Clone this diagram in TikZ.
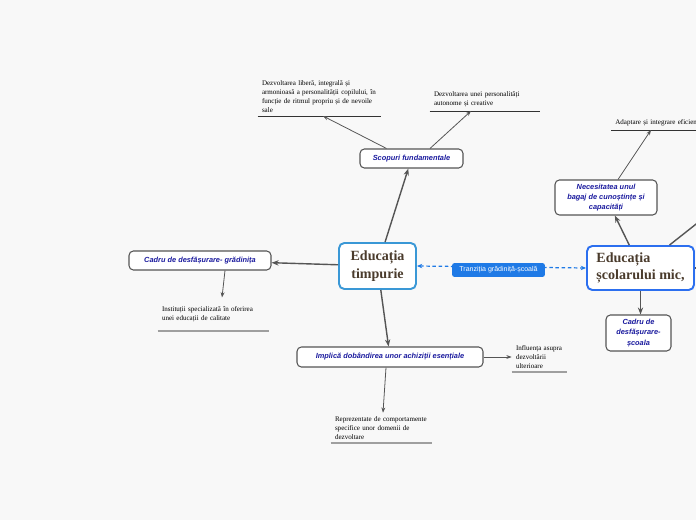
\documentclass[tikz,border=0pt]{standalone}
\usepackage{fontspec}
\setmainfont{Liberation Serif}
\setsansfont{Liberation Sans}
\usepackage{tikz}
\usetikzlibrary{arrows.meta,positioning}
\definecolor{mapblue}{HTML}{3A98D6}
\definecolor{schoolblue}{HTML}{2C6FEF}
\definecolor{topicblue}{HTML}{1A1A9E}
\definecolor{rootbrown}{HTML}{4A3B2C}
\definecolor{bridgeblue}{HTML}{1F7AE6}
\definecolor{arrowgray}{HTML}{555555}
\definecolor{paper}{HTML}{F8F8F8}

\begin{document}
\begin{tikzpicture}[x=0.02cm, y=-0.02cm,
  root/.style={draw=#1, line width=1.1pt, rounded corners=3pt, fill=white, font=\fontsize{8}{10}\selectfont\bfseries, text=rootbrown, inner sep=0pt},
  topic/.style={draw=arrowgray, line width=0.6pt, rounded corners=2.5pt, fill=white, font=\sffamily\fontsize{4.2}{5.8}\selectfont\bfseries\itshape, text=topicblue, align=center, inner sep=0pt},
  leaf/.style={font=\fontsize{4}{5}\selectfont, align=left, inner xsep=0.08cm, inner ysep=2pt, anchor=south},
  tag/.style={fill=bridgeblue, rounded corners=1.5pt, text=white, font=\sffamily\fontsize{4}{5}\selectfont, minimum width=1.86cm, minimum height=0.28cm, inner sep=0pt},
  arrow/.style={-{Stealth[length=4pt,width=3pt]}, line width=0.8pt, draw=arrowgray},
  subarrow/.style={-{Stealth[length=3pt,width=2.2pt]}, line width=0.45pt, draw=arrowgray},
  bridge/.style={{Stealth[length=3pt,width=2.5pt]}-{Stealth[length=3pt,width=2.5pt]}, dashed, dash pattern=on 2pt off 1.5pt, line width=0.7pt, draw=bridgeblue},
  thinrule/.style={line width=0.5pt, draw=black!80},
  thickrule/.style={line width=1pt, draw=gray!75}
]

\clip (0,0) rectangle (696,520);
\fill[paper] (0,0) rectangle (696,520);

% Central topics
\node[root=mapblue, align=center, minimum width=1.54cm, minimum height=0.92cm] (timp) at (377.5,266) {Educația\\timpurie};
\node[root=schoolblue, align=left, minimum width=2.14cm, minimum height=0.88cm] (scol) at (640.5,268) {Educația\\școlarului mic,};

% Main branches
\node[topic, minimum width=2.06cm, minimum height=0.38cm] (scop) at (411.5,158.5) {Scopuri fundamentale};
\node[topic, minimum width=2.84cm, minimum height=0.38cm] (cadg) at (200,260.5) {Cadru de desfășurare- grădinița};
\node[topic, minimum width=3.72cm, minimum height=0.4cm] (impl) at (390,357) {Implică dobândirea unor achiziții esențiale};
\node[topic, minimum width=2.04cm, minimum height=0.7cm] (nec) at (606,197.5) {Necesitatea unul\\bagaj de cunoștințe și\\capacități};
\node[topic, minimum width=1.3cm, minimum height=0.72cm] (cads) at (638.5,333) {Cadru de\\desfășurare-\\școala};

% Leaves
\node[leaf, text width=2.3cm] (leafA) at (319.5,116) {Dezvoltarea liberă, integrală și\\armonioasă a personalității copilului, în\\funcție de ritmul propriu și de nevoile\\sale};
\node[leaf, text width=2.04cm] (leafB) at (485,111) {Dezvoltarea unei personalități\\autonome și creative};
\node[leaf, text width=2.06cm, inner ysep=5pt] (inst) at (213.5,331) {Instituții specializată în oferirea\\unei educații de calitate};
\node[leaf, text width=0.94cm] (infl) at (539.5,372) {Influența asupra\\dezvoltării\\ulterioare};
\node[leaf, text width=1.86cm] (repr) at (381.5,443) {Reprezentate de comportamente\\specifice unor domenii de\\dezvoltare};
\node[leaf, anchor=south west, text width=2.3cm] (adapt) at (611,130) {Adaptare și integrare eficientă};

% Underlines
\draw[thinrule] (leafA.south west) -- (leafA.south east);
\draw[thinrule] (leafB.south west) -- (leafB.south east);
\draw[thickrule] (inst.south west) -- (inst.south east);
\draw[thickrule] (infl.south west) -- (infl.south east);
\draw[thickrule] (repr.south west) -- (repr.south east);
\draw[thinrule] (adapt.south west) -- (adapt.south east);

% Off-page ends
\coordinate (offA) at (724,202);
\coordinate (offB) at (730,268);

% Arrows
\draw[arrow] (timp) -- (scop);
\draw[arrow] (timp) -- (cadg);
\draw[arrow] (timp) -- (impl);
\draw[arrow] (scol) -- (nec);
\draw[arrow] (scol.south) -- (cads.north -| scol.south);
\draw[arrow] (scol) -- (offA);
\draw[arrow] (scol) -- (offB);

\draw[subarrow] ([xshift=-0.5cm]scop.north) -- ([xshift=0.07cm]leafA.south);
\draw[subarrow] ([xshift=0.37cm]scop.north) -- ([xshift=-0.28cm]leafB.south);
\draw[subarrow] ([xshift=0.5cm]cadg.south) -- ([xshift=0.17cm]inst.north);
\draw[subarrow] (impl.east) -- (impl.east -| infl.west);
\draw[subarrow] ([xshift=-0.08cm]impl.south) -- ([xshift=0.03cm]repr.north);
\draw[subarrow] (nec) -- ([xshift=0.8cm]adapt.south west);

% Transition
\draw[bridge] (timp.east) -- (scol.west);
\node[tag] (trans) at (498.5,270) {Tranziția grădiniță-școală};

\end{tikzpicture}
\end{document}
